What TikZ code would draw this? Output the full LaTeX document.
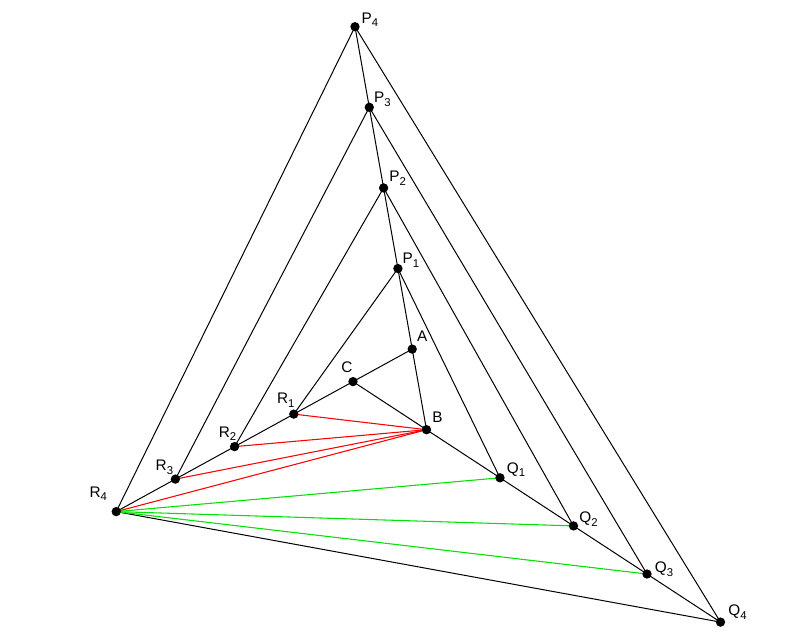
\documentclass[tikz,border=0pt]{standalone}
\usepackage{fontspec}
\setmainfont{Liberation Sans}
\usetikzlibrary{calc}
\definecolor{lred}{RGB}{255,0,0}
\definecolor{lgreen}{RGB}{0,225,0}
\newcommand{\sbx}[1]{\raisebox{-0.45ex}{\fontsize{8.5}{9}\selectfont #1}}
\begin{document}
\begin{tikzpicture}[x=0.75pt,y=-0.75pt,
  dot/.style={circle,fill=black,inner sep=0pt,minimum size=7pt},
  lab/.style={inner sep=0pt,font=\fontsize{11.5}{13}\selectfont},
  blk/.style={draw=black,line width=0.75pt},
  redl/.style={draw=lred,line width=0.8pt},
  grnl/.style={draw=lgreen,line width=0.8pt}]
\useasboundingbox (0,0) rectangle (800,637);
\coordinate (a) at (412.2,349.1);
\coordinate (b) at (426.5,429.7);
\coordinate (c) at (353.0,381.6);
\foreach \n/\t in {1/2,2/3,3/4,4/5}{
  \coordinate (p\n) at ($(b)!\t!(a)$);
  \coordinate (q\n) at ($(c)!\t!(b)$);
  \coordinate (r\n) at ($(a)!\t!(c)$);
}
% black construction lines
\draw[blk] (p4) -- (b);
\draw[blk] (r4) -- (a);
\draw[blk] (q4) -- (c);
\foreach \n in {1,2,3,4}{
  \draw[blk] (p\n) -- (r\n);
  \draw[blk] (p\n) -- (q\n);
}
\draw[blk] (r4) -- (q4);
% red lines
\foreach \n in {1,2,3,4}{ \draw[redl] (b) -- (r\n); }
% green lines
\foreach \n in {1,2,3}{ \draw[grnl] (r4) -- (q\n); }
% dots
\foreach \pt in {a,b,c,p1,p2,p3,p4,q1,q2,q3,q4,r1,r2,r3,r4}{
  \node[dot] (d\pt) at (\pt) {};
}
% labels
\node[lab] (lA) at ($(a)+(10,-13)$) {A};
\node[lab] (lB) at ($(b)+(11,-12)$) {B};
\node[lab] (lC) at ($(c)+(-6,-14)$) {C};
\node[lab] (lP1) at ($(p1)+(13,-8)$) {P\sbx{1}};
\node[lab] (lP2) at ($(p2)+(14,-10)$) {P\sbx{2}};
\node[lab] (lP3) at ($(p3)+(13,-8)$) {P\sbx{3}};
\node[lab] (lP4) at ($(p4)+(15,-7)$) {P\sbx{4}};
\node[lab] (lQ1) at ($(q1)+(16,-8)$) {Q\sbx{1}};
\node[lab] (lQ2) at ($(q2)+(15,-7)$) {Q\sbx{2}};
\node[lab] (lQ3) at ($(q3)+(17,-5)$) {Q\sbx{3}};
\node[lab] (lQ4) at ($(q4)+(17,-10)$) {Q\sbx{4}};
\node[lab] (lR1) at ($(r1)+(-8,-14)$) {R\sbx{1}};
\node[lab] (lR2) at ($(r2)+(-7,-13)$) {R\sbx{2}};
\node[lab] (lR3) at ($(r3)+(-11,-12)$) {R\sbx{3}};
\node[lab] (lR4) at ($(r4)+(-18,-18)$) {R\sbx{4}};
\end{tikzpicture}
\end{document}
